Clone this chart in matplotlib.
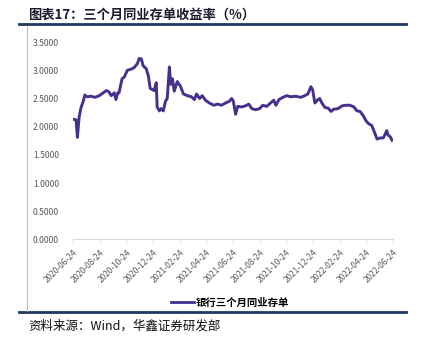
import pandas as pd
import matplotlib.pyplot as plt
import matplotlib.dates as mdates
from matplotlib.lines import Line2D

plt.rcParams['font.family'] = ['Noto Sans CJK SC', 'DejaVu Sans']

# 银行三个月同业存单收益率 (%)
dates = [
    '2020-06-26', '2020-07-01', '2020-07-04', '2020-07-08', '2020-07-12', '2020-07-17',
    '2020-07-21', '2020-07-26', '2020-08-04', '2020-08-13', '2020-08-23', '2020-09-01',
    '2020-09-08', '2020-09-14', '2020-09-19', '2020-09-26', '2020-09-30', '2020-10-04',
    '2020-10-07', '2020-10-14', '2020-10-19', '2020-10-26', '2020-11-04', '2020-11-11',
    '2020-11-18', '2020-11-22', '2020-11-27', '2020-12-01', '2020-12-08', '2020-12-13',
    '2020-12-17', '2020-12-26', '2020-12-31', '2021-01-02', '2021-01-07', '2021-01-11',
    '2021-01-16', '2021-01-21', '2021-01-25', '2021-01-30', '2021-02-02', '2021-02-06',
    '2021-02-10', '2021-02-17', '2021-02-24', '2021-03-03', '2021-03-12', '2021-03-21',
    '2021-03-28', '2021-04-02', '2021-04-09', '2021-04-15', '2021-04-22', '2021-05-01',
    '2021-05-11', '2021-05-20', '2021-05-29', '2021-06-07', '2021-06-16', '2021-06-21',
    '2021-06-25', '2021-06-30', '2021-07-05', '2021-07-14', '2021-07-23', '2021-07-30',
    '2021-08-06', '2021-08-15', '2021-08-24', '2021-08-31', '2021-09-09', '2021-09-18',
    '2021-09-25', '2021-09-30', '2021-10-07', '2021-10-16', '2021-10-25', '2021-11-03',
    '2021-11-14', '2021-11-26', '2021-12-05', '2021-12-12', '2021-12-19', '2021-12-23',
    '2021-12-28', '2022-01-04', '2022-01-08', '2022-01-13', '2022-01-20', '2022-01-27',
    '2022-02-03', '2022-02-09', '2022-02-19', '2022-02-28', '2022-03-09', '2022-03-18',
    '2022-03-27', '2022-04-03', '2022-04-10', '2022-04-17', '2022-04-24', '2022-04-30',
    '2022-05-07', '2022-05-12', '2022-05-19', '2022-05-26', '2022-06-02', '2022-06-06',
    '2022-06-10', '2022-06-13', '2022-06-18', '2022-06-22',
]
rates = [
    2.13, 2.12, 1.81, 2.17, 2.33, 2.44,
    2.56, 2.53, 2.54, 2.52, 2.55, 2.60,
    2.64, 2.62, 2.55, 2.60, 2.48, 2.60,
    2.60, 2.85, 2.88, 3.00, 3.02, 3.05,
    3.12, 3.21, 3.20, 3.08, 3.03, 2.90,
    2.68, 2.64, 2.78, 2.35, 2.28, 2.32,
    2.28, 2.45, 2.50, 3.06, 2.75, 2.85,
    2.63, 2.80, 2.72, 2.58, 2.55, 2.53,
    2.48, 2.58, 2.50, 2.55, 2.47, 2.42,
    2.38, 2.40, 2.38, 2.42, 2.45, 2.50,
    2.45, 2.22, 2.36, 2.35, 2.37, 2.40,
    2.32, 2.30, 2.32, 2.38, 2.36, 2.42,
    2.47, 2.38, 2.48, 2.52, 2.55, 2.53,
    2.54, 2.52, 2.55, 2.58, 2.71, 2.65,
    2.42, 2.48, 2.50, 2.42, 2.34, 2.33,
    2.27, 2.31, 2.32, 2.37, 2.38, 2.38,
    2.35, 2.28, 2.27, 2.20, 2.10, 2.05,
    2.02, 1.92, 1.78, 1.80, 1.80, 1.86,
    1.93, 1.85, 1.82, 1.76,
]
tick_labels = [
    '2020-06-24', '2020-08-24', '2020-10-24', '2020-12-24', '2021-02-24',
    '2021-04-24', '2021-06-24', '2021-08-24', '2021-10-24', '2021-12-24',
    '2022-02-24', '2022-04-24', '2022-06-24',
]
yticks = [0, 0.5, 1.0, 1.5, 2.0, 2.5, 3.0, 3.5]

df = pd.DataFrame({'date': pd.to_datetime(dates), 'rate': rates})
tick_dates = pd.to_datetime(tick_labels)

navy = '#1f3864'
line_color = '#46308c'

fig = plt.figure(figsize=(4.22, 3.45), dpi=100)
ax = fig.add_axes([0.173, 0.306, 0.758, 0.572])

ax.plot(df['date'], df['rate'], color=line_color, lw=2.1, solid_joinstyle='round')

ax.set_xlim(tick_dates[0], tick_dates[-1])
ax.set_ylim(0, 3.5)
ax.set_yticks(yticks)
ax.set_yticklabels(['%.4f' % v for v in yticks])
ax.set_xticks(tick_dates)
ax.set_xticklabels(tick_labels)
for lbl in ax.get_xticklabels():
    lbl.set_rotation(45)
    lbl.set_ha('right')
    lbl.set_rotation_mode('anchor')

ax.tick_params(axis='y', length=0, labelsize=6.2, labelcolor='#595959', pad=10)
ax.tick_params(axis='x', length=3, width=0.6, color='#d9d9d9', labelsize=6,
               labelcolor='#595959', pad=3)
for side in ['top', 'right', 'left']:
    ax.spines[side].set_visible(False)
ax.spines['bottom'].set_color('#d9d9d9')
ax.spines['bottom'].set_linewidth(0.8)

handle = Line2D([], [], color=line_color, lw=2.0)
fig.legend([handle], ['银行三个月同业存单'], loc='center', bbox_to_anchor=(0.545, 0.122),
           frameon=False, handlelength=2.2, handletextpad=0.2,
           prop={'size': 7.5, 'weight': 'bold'})

# header, frame rules and source note
fig.text(0.067, 0.958, '图表17：三个月同业存单收益率（%）', fontsize=9.5, color='#1a1a2e',
         va='center', ha='left', fontweight='bold')
fig.add_artist(Line2D([0.045, 0.962], [0.930, 0.930], color=navy, lw=2.0))
fig.add_artist(Line2D([0.045, 0.962], [0.096, 0.096], color=navy, lw=2.0))
fig.add_artist(Line2D([0.064, 0.064], [0.098, 0.925], color='#bfbfbf', lw=0.8))
fig.text(0.067, 0.055, '资料来源：Wind，华鑫证券研发部', fontsize=9, color='#111111',
         va='center', ha='left')

fig.savefig('out.png', dpi=100, facecolor='white')
